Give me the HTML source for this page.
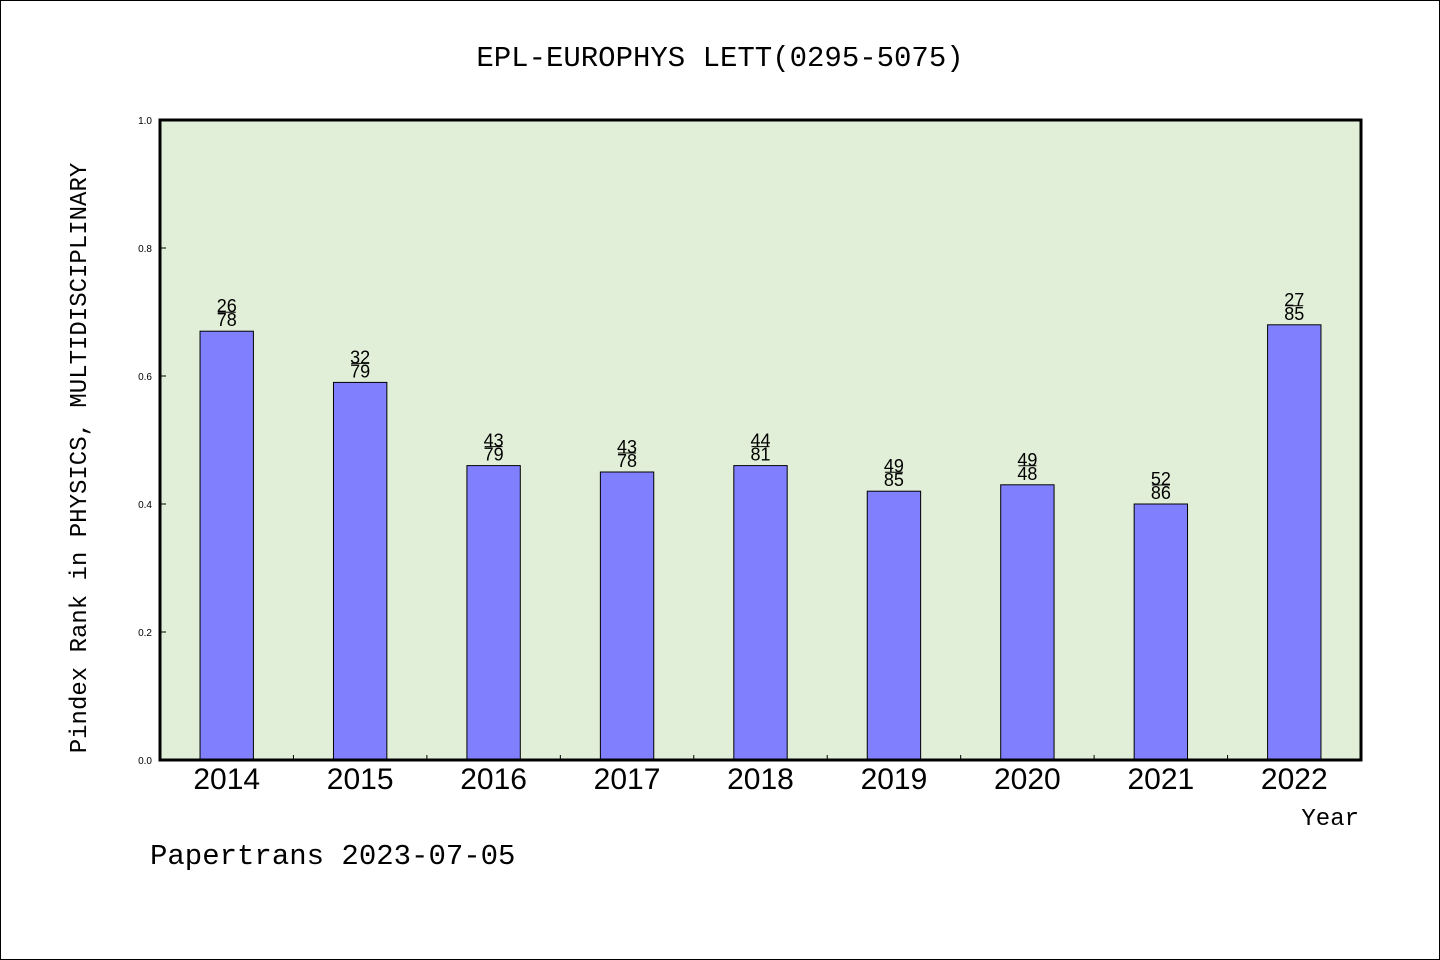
<!DOCTYPE html>
<html><head><meta charset="utf-8"><style>
html,body{margin:0;padding:0;background:#fff}
svg{display:block}
</style></head><body>
<svg id="chart" width="1440" height="960" xmlns="http://www.w3.org/2000/svg">
<rect x="0.5" y="0.5" width="1439" height="959" fill="#fff" stroke="#000"/>
<text x="720" y="66" text-anchor="middle" font-family="'Liberation Mono', monospace" font-size="29">EPL-EUROPHYS LETT(0295-5075)</text>
<rect x="160" y="120" width="1201" height="640" fill="#e2efd8"/>
<g id="ticks"></g>
<g id="bars"></g>
<rect x="160" y="120" width="1201" height="640" fill="none" stroke="#000" stroke-width="3"/>
<text transform="translate(86,458) rotate(-90)" text-anchor="middle" font-family="'Liberation Mono', monospace" font-size="24">Pindex Rank in PHYSICS, MULTIDISCIPLINARY</text>
<text x="1359" y="825" text-anchor="end" font-family="'Liberation Mono', monospace" font-size="24">Year</text>
<text x="150" y="864" font-family="'Liberation Mono', monospace" font-size="29">Papertrans 2023-07-05</text>
</svg>
<script>
const categories = ["2014","2015","2016","2017","2018","2019","2020","2021","2022"];
const values = [0.67,0.59,0.46,0.45,0.46,0.42,0.43,0.40,0.68];
const numerators = ["26","32","43","43","44","49","49","52","27"];
const denominators = ["78","79","79","78","81","85","48","86","85"];
const yTicks = [0,0.2,0.4,0.6,0.8,1.0];
const NS="http://www.w3.org/2000/svg";
const X0=160,X1=1361,Y0=760,Y1=120;
const band=(X1-X0)/categories.length;
const xc=i=>X0+band*(i+0.5);
const y=v=>Y0-(v)*(Y0-Y1);
function mk(tag,attrs,parent){const e=document.createElementNS(NS,tag);for(const k in attrs)e.setAttribute(k,attrs[k]);parent.appendChild(e);return e;}
const tg=document.getElementById('ticks'),bg=document.getElementById('bars');
yTicks.forEach(t=>{
  const l=mk('line',{x1:X0,x2:X0+6,y1:y(t),y2:y(t),stroke:'#000'},tg);
  
  
  const tx=mk('text',{x:152,y:y(t)+4,'text-anchor':'end','font-family':"'Liberation Sans', sans-serif",'font-size':10},tg);
  
  
  tx.textContent=t.toFixed(1);
});
for(let i=1;i<categories.length;i++){
  const l=mk('line',{x1:X0+band*i,x2:X0+band*i,y1:Y0,y2:Y0-5,stroke:'#000'},tg);
  
  
}
const bw=band*0.4;
categories.forEach((c,i)=>{
  const top=y(values[i]);
  const r=mk('rect',{x:xc(i)-bw/2,y:top,width:bw,height:Y0-top,fill:'#8080ff',stroke:'#000','stroke-width':1},bg);
  
  
  const n=mk('text',{x:xc(i),y:top-19,'text-anchor':'middle','font-family':"'Liberation Sans', sans-serif",'font-size':18},bg);
  
  
  n.textContent=numerators[i];
  const ln=mk('line',{x1:xc(i)-9,x2:xc(i)+9,y1:top-19,y2:top-19,stroke:'#000'},bg);
  
  
  const d=mk('text',{x:xc(i),y:top-5,'text-anchor':'middle','font-family':"'Liberation Sans', sans-serif",'font-size':18},bg);
  
  
  d.textContent=denominators[i];
  const xl=mk('text',{x:xc(i),y:789,'text-anchor':'middle','font-family':"'Liberation Sans', sans-serif",'font-size':30},bg);
  
  
  xl.textContent=c;
});
</script>
</body></html>
